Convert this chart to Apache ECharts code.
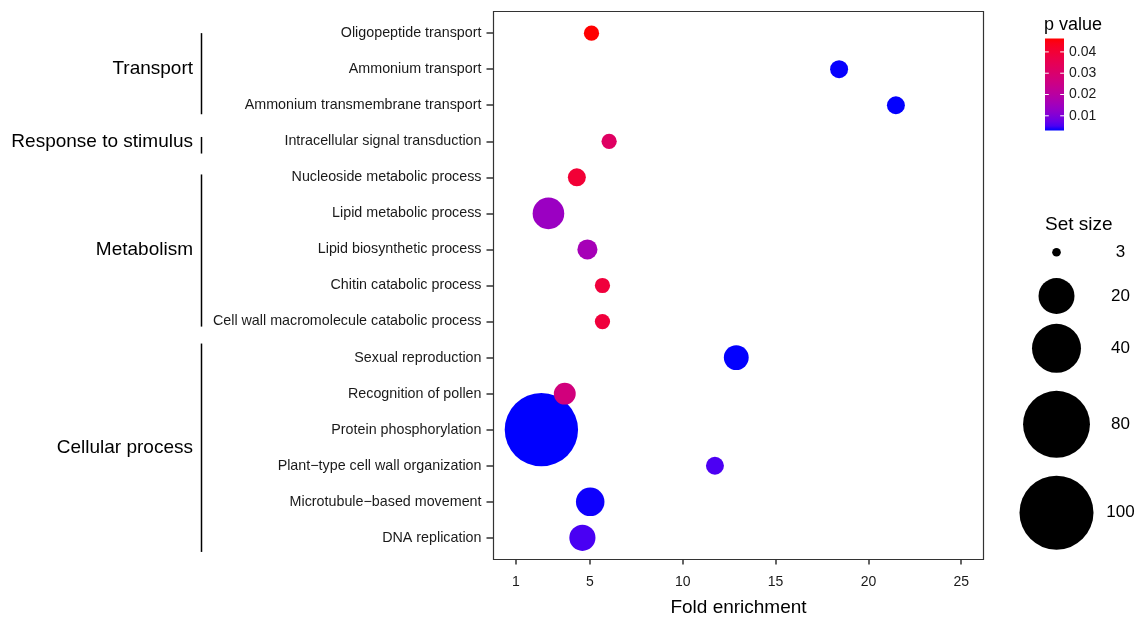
<!DOCTYPE html>
<html>
<head>
<meta charset="utf-8">
<title>GO enrichment bubble chart</title>
<script src="https://cdn.jsdelivr.net/npm/echarts@6/dist/echarts.min.js"></script>
<style>
  html, body { margin: 0; padding: 0; background: #fff; }
  #chart { width: 1143px; height: 617px; }
</style>
</head>
<body>
<div id="chart"></div>
<script>
// GO terms, listed from the bottom row of the plot to the top row
const terms = [
  'DNA replication',
  'Microtubule\u2212based movement',
  'Plant\u2212type cell wall organization',
  'Protein phosphorylation',
  'Recognition of pollen',
  'Sexual reproduction',
  'Cell wall macromolecule catabolic process',
  'Chitin catabolic process',
  'Lipid biosynthetic process',
  'Lipid metabolic process',
  'Nucleoside metabolic process',
  'Intracellular signal transduction',
  'Ammonium transmembrane transport',
  'Ammonium transport',
  'Oligopeptide transport'
];
const foldEnrichment = [4.59, 5.01, 11.73, 2.38, 3.64, 12.88, 5.67, 5.67, 4.86, 2.76, 4.29, 6.03, 21.48, 18.42, 5.08];
const setSize        = [10, 12, 5, 98, 7, 9, 4, 4, 6, 15, 5, 4, 5, 5, 4];
const pValue         = [0.0052, 0.0035, 0.0053, 0.0031, 0.027, 0.0032, 0.039, 0.039, 0.016, 0.014, 0.040, 0.032, 0.0032, 0.0033, 0.0463];
// broad category of each term (same order as terms)
const termGroup = [
  'Cellular process', 'Cellular process', 'Cellular process', 'Cellular process', 'Cellular process', 'Cellular process',
  'Metabolism', 'Metabolism', 'Metabolism', 'Metabolism', 'Metabolism',
  'Response to stimulus',
  'Transport', 'Transport', 'Transport'
];
const groupNames = ['Transport', 'Response to stimulus', 'Metabolism', 'Cellular process'];

const xTicks = [1, 5, 10, 15, 20, 25];
const pTicks = [0.01, 0.02, 0.03, 0.04];
const sizeBreaks = [3, 20, 40, 80, 100];

// ---------- styling helpers ----------
const FONT = "'Liberation Sans', Arial, Helvetica, sans-serif";
const sizeLimits = [3, 100];
// bubble radius: area-style scale between a minimum and maximum radius
const R_MIN = 4.3, R_SPAN = 32.7;
function radiusOf(v) {
  const t = Math.max(0, (v - sizeLimits[0]) / (sizeLimits[1] - sizeLimits[0]));
  return R_MIN + R_SPAN * Math.sqrt(t);
}

// blue -> red gradient interpolated in CIE Lab space
function toLin(c) { c /= 255; return c <= 0.04045 ? c / 12.92 : Math.pow((c + 0.055) / 1.055, 2.4); }
function toSrgb(c) { c = Math.max(0, Math.min(1, c)); return 255 * (c <= 0.0031308 ? 12.92 * c : 1.055 * Math.pow(c, 1 / 2.4) - 0.055); }
const WP = [0.95047, 1, 1.08883];
function fLab(t) { return t > 0.008856 ? Math.cbrt(t) : 7.787 * t + 16 / 116; }
function fInv(f) { const f3 = f * f * f; return f3 > 0.008856 ? f3 : (f - 16 / 116) / 7.787; }
function rgbToLab(rgb) {
  const [r, g, b] = rgb.map(toLin);
  const X = 0.4124 * r + 0.3576 * g + 0.1805 * b;
  const Y = 0.2126 * r + 0.7152 * g + 0.0722 * b;
  const Z = 0.0193 * r + 0.1192 * g + 0.9505 * b;
  const fx = fLab(X / WP[0]), fy = fLab(Y / WP[1]), fz = fLab(Z / WP[2]);
  return [116 * fy - 16, 500 * (fx - fy), 200 * (fy - fz)];
}
function labToRgb(lab) {
  const fy = (lab[0] + 16) / 116, fx = fy + lab[1] / 500, fz = fy - lab[2] / 200;
  const X = WP[0] * fInv(fx), Y = WP[1] * fInv(fy), Z = WP[2] * fInv(fz);
  const r = 3.2406 * X - 1.5372 * Y - 0.4986 * Z;
  const g = -0.9689 * X + 1.8758 * Y + 0.0415 * Z;
  const b = 0.0557 * X - 0.2040 * Y + 1.0570 * Z;
  return 'rgb(' + [r, g, b].map(v => Math.round(toSrgb(v))).join(',') + ')';
}
const labLow = rgbToLab([0, 0, 255]), labHigh = rgbToLab([255, 0, 0]);
const gradientStops = [];
for (let i = 0; i <= 20; i++) {
  const t = i / 20;
  gradientStops.push(labToRgb(labLow.map((v, k) => v + (labHigh[k] - v) * t)));
}

const pMin = Math.min(...pValue), pMax = Math.max(...pValue);
const yMin = -0.6, yMax = terms.length - 1 + 0.6;

const seriesData = terms.map((t, i) => [foldEnrichment[i], i, setSize[i], pValue[i], t]);

const chart = echarts.init(document.getElementById('chart'), null, { renderer: 'canvas' });

const option = {
  animation: false,
  backgroundColor: '#fff',
  textStyle: { fontFamily: FONT },
  grid: {
    left: 493.5, right: 159.5, top: 11.5, bottom: 57.5,
    outerBoundsMode: 'none', containLabel: false,
    show: true, borderColor: '#333', borderWidth: 1.2, backgroundColor: 'transparent'
  },
  xAxis: {
    type: 'value', min: -0.2, max: 26.2,
    name: 'Fold enrichment', nameLocation: 'middle', nameGap: 39,
    nameTextStyle: { fontSize: 19, color: '#000', fontFamily: FONT },
    axisLine: { show: false, onZero: false },
    axisTick: { show: true, inside: false, length: 5, customValues: xTicks, lineStyle: { color: '#333', width: 1.5 } },
    axisLabel: { customValues: xTicks, fontSize: 14, color: '#1a1a1a', margin: 15.5, fontFamily: FONT },
    splitLine: { show: false }
  },
  yAxis: {
    type: 'value', min: yMin, max: yMax,
    axisLine: { show: false, onZero: false },
    axisTick: { show: true, inside: false, length: 7, customValues: terms.map((t, i) => i), lineStyle: { color: '#333', width: 1.5 } },
    axisLabel: {
      customValues: terms.map((t, i) => i),
      formatter: v => terms[Math.round(v)],
      fontSize: 14.3, color: '#1a1a1a', margin: 12, fontFamily: FONT
    },
    splitLine: { show: false }
  },
  visualMap: {
    type: 'continuous', show: false, dimension: 3, seriesIndex: 0,
    min: pMin, max: pMax, inRange: { color: gradientStops }
  },
  series: [{
    type: 'scatter',
    data: seriesData,
    symbol: 'circle',
    symbolSize: v => 2 * radiusOf(v[2]),
    itemStyle: { opacity: 1, borderWidth: 0 },
    emphasis: { disabled: true }
  }]
};
chart.setOption(option);

// ---------- side annotations and legends ----------
const graphics = [];
const rowPx = i => chart.convertToPixel({ yAxisIndex: 0 }, i);
const rowStep = Math.abs(rowPx(1) - rowPx(0));

// bracket extents beyond the first / last member row, in row units
const bracketPad = {
  'Transport': [0.0, 0.25],
  'Response to stimulus': [0.12, 0.34],
  'Metabolism': [0.08, 0.14],
  'Cellular process': [0.39, 0.39]
};
groupNames.forEach(g => {
  const idx = termGroup.map((tg, i) => tg === g ? i : -1).filter(i => i >= 0);
  const topIdx = Math.max(...idx), botIdx = Math.min(...idx);
  const yTop = rowPx(topIdx) - bracketPad[g][0] * rowStep;
  const yBot = rowPx(botIdx) + bracketPad[g][1] * rowStep;
  graphics.push({
    type: 'line', shape: { x1: 201.5, y1: yTop, x2: 201.5, y2: yBot },
    style: { stroke: '#000', lineWidth: 1.5 }
  });
  graphics.push({
    type: 'text', x: 193, y: (rowPx(topIdx) + rowPx(botIdx)) / 2,
    style: { text: g, font: '19px ' + FONT, fill: '#000', align: 'right', verticalAlign: 'middle' }
  });
});

// colour bar for p value
const bar = { x: 1045, y: 38.5, w: 19, h: 92 };
graphics.push({
  type: 'text', x: 1044, y: 25,
  style: { text: 'p value', font: '18px ' + FONT, fill: '#000', align: 'left', verticalAlign: 'middle' }
});
graphics.push({
  type: 'rect', shape: { x: bar.x, y: bar.y, width: bar.w, height: bar.h },
  style: {
    fill: {
      type: 'linear', x: 0, y: 1, x2: 0, y2: 0,
      colorStops: gradientStops.map((c, i) => ({ offset: i / (gradientStops.length - 1), color: c }))
    }
  }
});
pTicks.forEach(p => {
  const y = bar.y + bar.h - (p - pMin) / (pMax - pMin) * bar.h;
  const tl = bar.w / 5;
  graphics.push({ type: 'line', shape: { x1: bar.x, y1: y, x2: bar.x + tl, y2: y }, style: { stroke: '#fff', lineWidth: 1 } });
  graphics.push({ type: 'line', shape: { x1: bar.x + bar.w - tl, y1: y, x2: bar.x + bar.w, y2: y }, style: { stroke: '#fff', lineWidth: 1 } });
  graphics.push({
    type: 'text', x: bar.x + bar.w + 5, y: y,
    style: { text: p.toFixed(2), font: '14px ' + FONT, fill: '#1a1a1a', align: 'left', verticalAlign: 'middle' }
  });
});

// size legend
graphics.push({
  type: 'text', x: 1045, y: 225,
  style: { text: 'Set size', font: '19px ' + FONT, fill: '#000', align: 'left', verticalAlign: 'middle' }
});
const sizeKeyY = [252.3, 296, 348.3, 424.3, 512.7];
sizeBreaks.forEach((s, i) => {
  graphics.push({
    type: 'circle', shape: { cx: 1056.5, cy: sizeKeyY[i], r: radiusOf(s) },
    style: { fill: '#000' }
  });
  graphics.push({
    type: 'text', x: 1120.5, y: sizeKeyY[i],
    style: { text: String(s), font: '17px ' + FONT, fill: '#000', align: 'center', verticalAlign: 'middle' }
  });
});

chart.setOption({ graphic: graphics });
</script>
</body>
</html>
